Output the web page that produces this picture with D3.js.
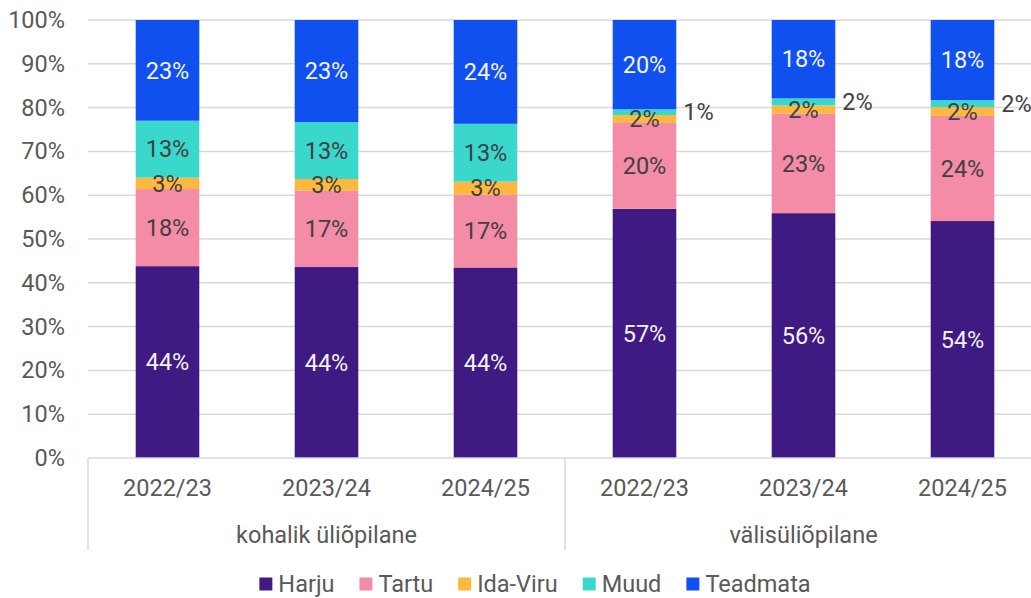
<!DOCTYPE html>
<html>
<head>
<meta charset="utf-8">
<script src="https://cdn.jsdelivr.net/npm/d3@7"></script>
<style>
  body { margin: 0; background: #fff; }
  svg { font-family: Roboto, sans-serif; display: block; }
</style>
</head>
<body>
<div id="chart"></div>
<script>
// categories
const years = ['2022/23', '2023/24', '2024/25'];
const groups = ['kohalik üliõpilane', 'välisüliõpilane'];
const seriesNames = ['Harju', 'Tartu', 'Ida-Viru', 'Muud', 'Teadmata'];
const seriesColors = ['#3f1a82', '#f48ba7', '#ffb83f', '#3ad8cc', '#1050ef'];

// shares in %, six bars: kohalik x3, välis x3
const harju    = [43.8, 43.6, 43.5, 56.9, 55.9, 54.1];
const tartu    = [17.6, 17.4, 16.6, 19.6, 22.7, 24.0];
const idaViru  = [2.6, 2.7, 3.0, 1.8, 1.9, 2.0];
const muud     = [13.0, 13.0, 13.2, 1.3, 1.6, 1.6];
const teadmata = [23.0, 23.3, 23.7, 20.4, 17.9, 18.3];

const yTicks = [0, 10, 20, 30, 40, 50, 60, 70, 80, 90, 100];

const width = 1031, height = 598;
const margin = { top: 20, left: 88, bottom: 140 };
const plotRight = 1042;
const y0 = height - margin.bottom;
const fontSize = 23.5;

// build rows for d3.stack
const bars = [];
groups.forEach((g, gi) => years.forEach((yr, yi) => {
  const i = gi * years.length + yi;
  bars.push({
    key: g + '|' + yr, group: g, year: yr,
    'Harju': harju[i], 'Tartu': tartu[i], 'Ida-Viru': idaViru[i],
    'Muud': muud[i], 'Teadmata': teadmata[i]
  });
}));
const stacked = d3.stack().keys(seriesNames)(bars);

const svg = d3.select('#chart').append('svg')
  .attr('width', width).attr('height', height);

const x = d3.scaleBand()
  .domain(bars.map(d => d.key))
  .range([margin.left, plotRight])
  .paddingInner(0.6)
  .paddingOuter(0.3);

const y = d3.scaleLinear().domain([0, 100]).range([y0, margin.top]);

const color = d3.scaleOrdinal(seriesNames, seriesColors);

// gridlines
svg.append('g').selectAll('line')
  .data(yTicks.filter(t => t > 0))
  .join('line')
  .attr('x1', margin.left).attr('x2', plotRight)
  .attr('y1', d => y(d)).attr('y2', d => y(d))
  .attr('stroke', '#d9d9d9').attr('stroke-width', 1.5);

// y axis labels
const yAxis = d3.axisLeft(y).tickValues(yTicks).tickFormat(d => d + '%').tickSize(0).tickPadding(23);
svg.append('g')
  .attr('transform', `translate(${margin.left},0)`)
  .call(yAxis)
  .call(g => g.select('.domain').remove())
  .call(g => g.selectAll('text')
    .attr('font-size', fontSize).attr('fill', '#595959').attr('font-family', 'Roboto, sans-serif'));

// bars
svg.append('g').selectAll('g')
  .data(stacked)
  .join('g')
  .attr('fill', d => color(d.key))
  .selectAll('rect')
  .data(d => d)
  .join('rect')
  .attr('x', d => x(d.data.key))
  .attr('width', x.bandwidth())
  .attr('y', d => y(d[1]))
  .attr('height', d => y(d[0]) - y(d[1]));

// value labels
const labelData = [];
stacked.forEach(s => s.forEach(d => {
  const outside = s.key === 'Muud' && d.data.group === groups[1];
  labelData.push({
    series: s.key, value: d[1] - d[0], outside,
    x: outside ? x(d.data.key) + x.bandwidth() + 7 : x(d.data.key) + x.bandwidth() / 2,
    y: y((d[0] + d[1]) / 2)
  });
}));
svg.append('g').selectAll('text')
  .data(labelData)
  .join('text')
  .attr('x', d => d.x)
  .attr('y', d => d.y)
  .attr('dy', '0.35em')
  .attr('text-anchor', d => d.outside ? 'start' : 'middle')
  .attr('font-size', fontSize)
  .attr('fill', d => (!d.outside && (d.series === 'Harju' || d.series === 'Teadmata')) ? '#f2f2f2' : '#404040')
  .text(d => Math.round(d.value) + '%');

// x axis: baseline, separators, labels
const axisG = svg.append('g');
axisG.append('line')
  .attr('x1', margin.left).attr('x2', plotRight)
  .attr('y1', y0).attr('y2', y0)
  .attr('stroke', '#d9d9d9').attr('stroke-width', 1.5);

const groupEdges = groups.map(g => {
  const keys = bars.filter(b => b.group === g).map(b => b.key);
  const step = x.step();
  return {
    group: g,
    start: x(keys[0]) + x.bandwidth() / 2 - step / 2,
    end: x(keys[keys.length - 1]) + x.bandwidth() / 2 + step / 2
  };
});

const seps = [groupEdges[0].start, ...groupEdges.map(d => d.end)];
axisG.selectAll('line.sep')
  .data(seps)
  .join('line')
  .attr('class', 'sep')
  .attr('x1', d => d).attr('x2', d => d)
  .attr('y1', y0).attr('y2', y0 + 92)
  .attr('stroke', '#d9d9d9').attr('stroke-width', 1.5);

axisG.selectAll('text.year')
  .data(bars)
  .join('text')
  .attr('class', 'year')
  .attr('x', d => x(d.key) + x.bandwidth() / 2)
  .attr('y', y0 + 30)
  .attr('dy', '0.35em')
  .attr('text-anchor', 'middle')
  .attr('font-size', fontSize)
  .attr('fill', '#595959')
  .text(d => d.year);

axisG.selectAll('text.group')
  .data(groupEdges)
  .join('text')
  .attr('class', 'group')
  .attr('x', d => (d.start + d.end) / 2)
  .attr('y', y0 + 77)
  .attr('dy', '0.35em')
  .attr('text-anchor', 'middle')
  .attr('font-size', fontSize)
  .attr('fill', '#595959')
  .text(d => d.group);

// legend
const legend = svg.append('g');
const items = legend.selectAll('g')
  .data(seriesNames)
  .join('g');
items.append('rect')
  .attr('width', 13).attr('height', 13)
  .attr('y', -6.5)
  .attr('fill', d => color(d));
items.append('text')
  .attr('x', 19)
  .attr('dy', '0.35em')
  .attr('font-size', fontSize)
  .attr('fill', '#595959')
  .text(d => d);

let cx = 0;
items.each(function () {
  const w = this.getBBox().width;
  d3.select(this).attr('transform', `translate(${cx},0)`);
  cx += w + 25;
});
const legendWidth = cx - 25;
legend.attr('transform', `translate(${535 - legendWidth / 2},584)`);
</script>
</body>
</html>
